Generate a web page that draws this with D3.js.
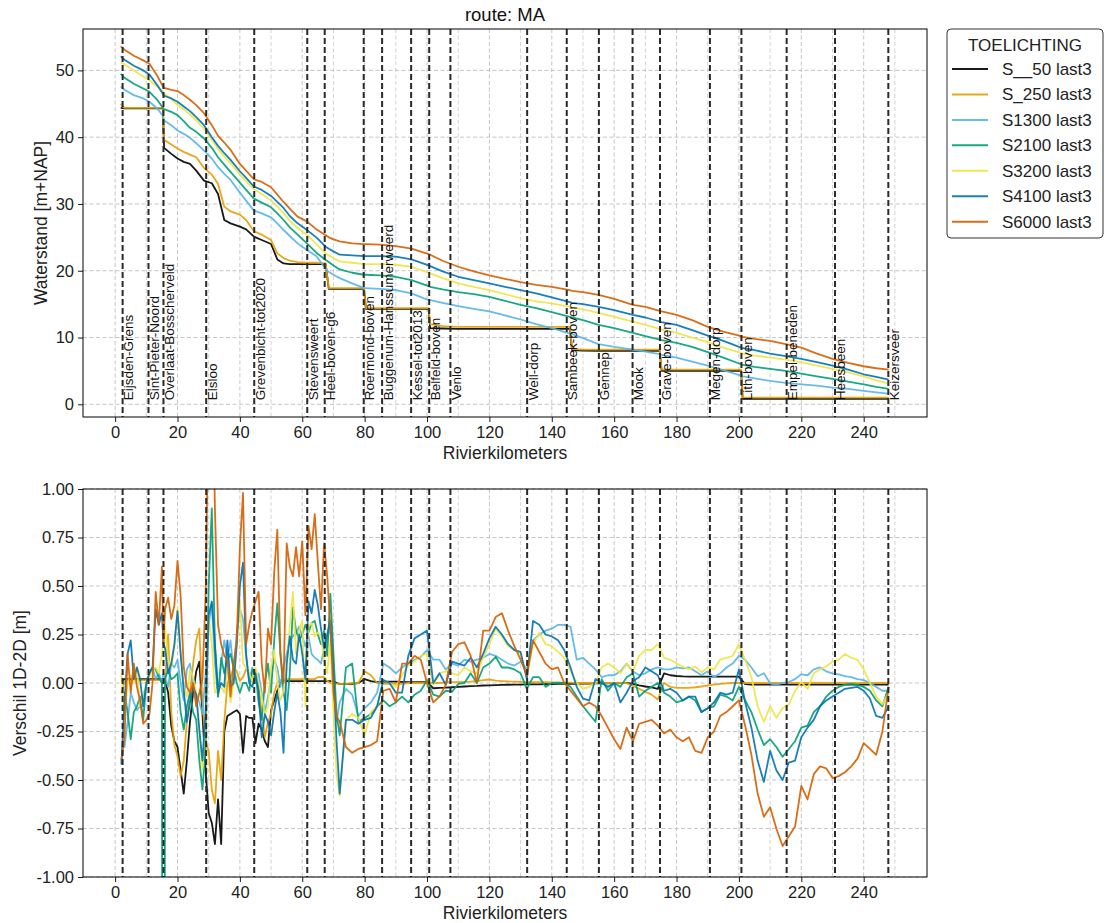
<!DOCTYPE html>
<html>
<head>
<meta charset="utf-8">
<script src="https://cdn.jsdelivr.net/npm/d3@7"></script>
<style>
	body { margin: 0; background: #fff; }
	text { font-family: "Liberation Sans", Arial, sans-serif; }
</style>
</head>
<body>
<div id="chart"></div>
<script>
// ---- series / legend ----
var seriesNames = ["S__50 last3", "S_250 last3", "S1300 last3", "S2100 last3", "S3200 last3", "S4100 last3", "S6000 last3"];
var seriesColors = ["#000000", "#E69F00", "#56B4E9", "#009E73", "#F0E442", "#0072B2", "#D55E00"];

// ---- locations along the river (km) ----
var locNames = ["Eijsden-Grens", "Sint-Pieter-Noord", "Overlaat-Bosscherveld", "Elsloo", "Grevenbicht-tot2020",
	"Stevensweert", "Heel-boven-g6", "Roermond-boven", "Buggenum-Hanssumerweerd", "Kessel-tot2013", "Belfeld-boven",
	"Venlo", "Well-dorp", "Sambeek-boven", "Gennep", "Mook", "Grave-boven", "Megen-dorp", "Lith-boven",
	"Empel-beneden", "Heesbeen", "Keizersveer"];
var locKm = [2.4, 10.7, 15.5, 29.2, 44.6, 61.6, 67.2, 79.7, 85.6, 94.9, 100.7, 107.5, 132.1, 144.8, 155.1,
	165.9, 174.7, 190.7, 200.8, 215.3, 230.8, 247.9];

// ---- tick labels ----
var xTicks = [0, 20, 40, 60, 80, 100, 120, 140, 160, 180, 200, 220, 240];
var xMinor = [10, 30, 50, 70, 90, 110, 130, 150, 170, 190, 210, 230, 250];
var wlTicks = [0, 10, 20, 30, 40, 50];
var dfTicks = [-1, -0.75, -0.5, -0.25, 0, 0.25, 0.5, 0.75, 1];

// ---- top panel: waterstand [m+NAP] ----
var kmTop = [1.8, 3, 6, 9, 11, 13.5, 15.3, 15.7, 18, 20,
	22, 24, 26, 28.5, 31, 33, 35, 37, 40, 42,
	44.5, 47, 50, 52, 54, 56, 58.5, 61.5, 64.5, 67.5,
	68.5, 70, 72, 76, 79.8, 80.4, 85, 90, 95, 100.5,
	101, 105, 110, 115, 120, 125, 130, 135, 140, 145.8,
	146.5, 150, 155, 160, 166, 170, 174.6, 175.2, 180, 185,
	190, 195, 200.7, 201.2, 205, 210, 215, 220, 225, 230,
	235, 240, 244, 248];

var wlS50 = [44.4, 44.3, 44.3, 44.3, 44.3, 44.3, 44.3, 38.4, 37.5, 36.8,
	36.3, 36.0, 35.0, 33.5, 33.1, 31.5, 27.6, 27.1, 26.6, 26.2,
	25.1, 24.6, 24.0, 21.7, 21.1, 21.0, 21.0, 21.0, 21.0, 21.0,
	17.3, 17.3, 17.3, 17.3, 17.3, 14.3, 14.3, 14.3, 14.3, 14.3,
	11.4, 11.35, 11.3, 11.3, 11.3, 11.3, 11.3, 11.3, 11.3, 11.3,
	8.1, 8.05, 8.0, 8.0, 8.0, 8.0, 8.0, 5.0, 5.0, 5.0,
	5.0, 5.0, 5.0, 0.8, 0.8, 0.8, 0.8, 0.8, 0.8, 0.8,
	0.8, 0.8, 0.8, 0.8];
var wlS250 = [45.0, 44.4, 44.4, 44.4, 44.4, 44.4, 44.4, 39.6, 38.9, 38.3,
	37.8, 37.4, 37.0, 35.4, 34.4, 33.0, 29.6, 28.9, 28.4, 27.6,
	25.9, 25.4, 24.6, 22.6, 21.9, 21.5, 21.3, 21.2, 21.2, 21.1,
	17.4, 17.4, 17.4, 17.4, 17.4, 14.4, 14.4, 14.4, 14.4, 14.4,
	12.0, 11.7, 11.6, 11.6, 11.6, 11.6, 11.6, 11.6, 11.6, 11.6,
	8.3, 8.2, 8.2, 8.2, 8.2, 8.2, 8.2, 5.2, 5.2, 5.2,
	5.2, 5.2, 5.2, 1.0, 1.0, 1.0, 1.0, 1.0, 1.0, 1.0,
	1.0, 1.0, 1.0, 1.0];
var wlS1300 = [47.6, 47.1, 46.3, 45.8, 45.3, 44.3, 43.2, 42.5, 41.8, 41.0,
	40.5, 39.9, 39.1, 38.0, 36.8, 35.5, 34.5, 33.6, 31.7, 30.5,
	29.0, 28.6, 28.0, 27.1, 26.1, 25.2, 24.1, 23.1, 22.2, 20.3,
	19.8, 19.4, 18.9, 18.1, 17.4, 17.4, 17.3, 17.1, 16.6, 15.6,
	15.6, 15.2, 14.7, 14.3, 13.9, 13.3, 12.7, 12.0, 11.4, 10.6,
	10.5, 9.9, 9.0, 8.6, 8.2, 7.9, 7.5, 7.4, 7.0, 6.4,
	5.8, 5.1, 4.3, 4.2, 3.9, 3.5, 3.2, 3.0, 2.8, 2.5,
	2.3, 2.0, 1.8, 1.6];
var wlS2100 = [49.5, 48.9, 48.0, 47.3, 46.8, 45.6, 44.4, 44.2, 43.8, 43.3,
	42.4, 41.4, 40.8, 39.8, 38.4, 37.0, 35.9, 34.8, 33.2, 32.1,
	30.8, 30.2, 29.5, 28.6, 27.6, 26.5, 25.4, 24.1, 22.7, 21.6,
	21.3, 20.8, 20.2, 19.7, 19.4, 19.4, 19.3, 19.1, 18.6, 17.7,
	17.6, 17.2, 16.8, 16.5, 16.1, 15.5, 14.9, 14.4, 13.8, 13.1,
	13.0, 12.6, 11.9, 11.4, 10.7, 10.2, 9.7, 9.6, 9.2, 8.6,
	7.8, 7.0, 6.0, 5.9, 5.6, 5.3, 5.0, 4.6, 4.2, 3.8,
	3.4, 3.0, 2.6, 2.3];
var wlS3200 = [51.2, 50.9, 50.0, 49.1, 48.5, 47.6, 46.9, 46.6, 45.7, 44.8,
	44.2, 43.4, 42.5, 41.3, 39.6, 38.2, 37.1, 36.1, 34.4, 33.4,
	32.2, 31.5, 30.5, 29.6, 28.6, 27.5, 26.4, 25.4, 24.0, 22.6,
	22.3, 21.9, 21.4, 21.2, 21.0, 21.0, 21.0, 20.9, 20.6, 19.7,
	19.6, 18.9, 18.1, 17.6, 17.1, 16.5, 15.9, 15.4, 15.1, 14.6,
	14.5, 14.2, 13.7, 13.1, 12.4, 11.9, 11.3, 11.2, 10.7, 10.0,
	9.3, 8.5, 7.7, 7.6, 7.3, 7.0, 6.7, 6.3, 5.8, 5.3,
	4.8, 4.2, 3.6, 3.1];
var wlS4100 = [52.1, 51.6, 50.7, 50.0, 49.4, 47.8, 46.5, 46.2, 45.8, 45.3,
	44.6, 43.9, 43.0, 41.8, 40.0, 38.7, 37.6, 36.6, 34.9, 33.9,
	32.6, 32.1, 31.2, 30.3, 29.4, 28.2, 27.1, 26.1, 25.0, 23.6,
	23.3, 22.9, 22.4, 22.3, 22.2, 22.2, 22.2, 22.1, 21.7, 20.8,
	20.7, 19.9, 19.1, 18.6, 18.1, 17.6, 17.1, 16.6, 16.0, 15.3,
	15.2, 15.0, 14.6, 14.1, 13.4, 13.0, 12.4, 12.3, 11.9, 11.1,
	10.3, 9.5, 8.5, 8.4, 8.1, 7.6, 7.2, 6.8, 6.3, 5.8,
	5.2, 4.5, 4.1, 3.7];
var wlS6000 = [53.6, 53.1, 52.2, 51.5, 51.0, 49.2, 47.6, 47.4, 47.1, 46.9,
	46.3, 45.6, 44.8, 43.6, 41.8, 40.2, 39.2, 38.1, 36.0, 35.0,
	33.7, 33.3, 32.5, 31.4, 30.3, 29.3, 28.1, 27.4, 26.2, 25.3,
	25.0, 24.7, 24.4, 24.1, 24.0, 24.0, 23.9, 23.7, 23.3, 22.5,
	22.4, 21.5, 20.6, 19.9, 19.3, 18.8, 18.3, 17.9, 17.6, 17.1,
	17.0, 16.8, 16.4, 15.8, 14.9, 14.6, 14.0, 13.9, 13.4, 12.6,
	11.6, 10.9, 10.2, 10.1, 9.8, 9.5, 9.0, 8.5, 7.6, 6.8,
	6.2, 5.7, 5.4, 5.2];

// ---- bottom panel: verschil 1D-2D [m] ----
var kmDiff = [2, 3, 4, 5, 6, 7, 8, 9, 10, 11,
	12, 13, 14, 15, 15.5, 16, 17, 18, 19, 20, 21,
	22, 23, 24, 25, 26, 27, 28, 29, 30, 31,
	32, 33, 34, 35, 36, 37, 38, 39, 40, 41,
	42, 43, 44, 45, 46, 47, 48, 49, 50, 51,
	52, 53, 54, 55, 56, 57, 58, 59, 60, 61,
	62, 63, 64, 65, 66, 67, 68, 69, 70, 71, 72,
	74, 76, 78, 80, 82, 84, 86, 88, 90, 92,
	94, 96, 98, 100, 102, 104, 106, 108, 110, 112,
	114, 116, 118, 120, 122, 124, 126, 128, 130, 132,
	134, 136, 138, 140, 142, 144, 146, 148, 150, 152,
	154, 156, 158, 160, 162, 164, 166, 168, 170, 172,
	174, 176, 178, 180, 182, 184, 186, 188, 190, 192,
	194, 196, 198, 200, 202, 204, 206, 208, 210, 212,
	214, 216, 218, 220, 222, 224, 226, 228, 230, 232,
	234, 236, 238, 240, 242, 244, 246, 248];

var dfS50 = [0.01, 0.02, 0.02, 0.02, 0.02, 0.02, 0.02, 0.02, 0.02, 0.02,
	0.02, 0.02, 0.02, 0.02, 0.02, 0.02, -0.05, -0.22, -0.30, -0.33, -0.45,
	-0.57, -0.40, -0.20, -0.05, 0.06, 0.11, -0.16, -0.45, -0.67, -0.72,
	-0.83, -0.60, -0.83, -0.25, -0.17, -0.16, -0.15, -0.14, -0.16, -0.36,
	-0.17, -0.18, -0.18, -0.31, -0.21, -0.24, -0.30, -0.33, -0.14, -0.09,
	-0.04, 0.00, 0.015, 0.01, 0.01, 0.01, 0.01, 0.01, 0.01, 0.01,
	0.01, 0.01, 0.01, 0.01, 0.01, 0.01, 0.01, 0.01, 0.01, 0.00, -0.005,
	-0.005, -0.005, 0.00, 0.02, 0.01, 0.005, 0.007, 0.007, 0.007, 0.006,
	0.005, 0.005, 0.005, 0.005, -0.027, -0.025, -0.024, -0.022, -0.020, -0.018,
	-0.016, -0.015, -0.013, -0.012, -0.011, -0.010, -0.009, -0.008, -0.008, -0.007,
	-0.007, -0.007, -0.006, -0.006, -0.005, -0.005, -0.004, -0.004, -0.003, -0.003,
	-0.002, -0.002, -0.002, -0.001, -0.001, 0.000, -0.005, -0.012, -0.018, -0.023,
	-0.030, 0.050, 0.040, 0.036, 0.034, 0.033, 0.033, 0.033, 0.033, 0.033,
	0.033, 0.033, 0.033, 0.033, -0.006, -0.008, -0.008, -0.008, -0.008, -0.008,
	-0.008, -0.008, -0.008, -0.008, -0.008, -0.008, -0.008, -0.008, -0.008, -0.008,
	-0.008, -0.008, -0.008, -0.008, -0.008, -0.008, -0.008, -0.008];
var dfS250 = [-0.05, 0.01, 0.015, 0.015, 0.015, 0.015, 0.015, 0.015, 0.015, 0.015,
	0.015, 0.015, 0.015, 0.015, 0.01, 0.00, 0.25, -0.15, -0.32, -0.38, -0.48,
	-0.40, -0.20, -0.05, 0.10, 0.22, 0.28, -0.10, -0.30, -0.35, -0.55,
	-0.62, -0.35, -0.50, -0.20, 0.00, 0.03, 0.08, 0.06, 0.01, 0.03,
	0.07, 0.05, 0.03, 0.01, -0.02, -0.15, -0.28, -0.20, -0.16, -0.05,
	0.00, 0.015, 0.02, 0.02, 0.02, 0.02, 0.02, 0.02, 0.02, 0.02,
	0.02, 0.02, 0.02, 0.03, 0.03, 0.03, 0.01, 0.00, -0.005, -0.005, -0.005,
	-0.005, 0.00, 0.00, 0.06, 0.04, 0.00, -0.005, -0.005, -0.005, -0.005,
	0.00, 0.00, 0.00, 0.00, 0.00, 0.00, 0.003, 0.005, 0.005, 0.006,
	0.007, 0.010, 0.015, 0.018, 0.012, 0.010, 0.008, 0.007, 0.006, 0.005,
	0.005, 0.004, 0.004, 0.003, 0.003, 0.002, 0.002, 0.00, 0.00, 0.00,
	0.00, 0.00, 0.00, 0.00, 0.00, 0.00, -0.015, -0.03, -0.045, -0.06,
	-0.085, 0.00, -0.02, -0.025, -0.025, -0.025, -0.022, -0.018, -0.012, -0.008,
	-0.005, -0.002, 0.00, 0.00, 0.00, 0.00, 0.00, 0.00, 0.00, 0.00,
	0.00, 0.00, 0.00, 0.00, 0.00, 0.00, 0.00, 0.00, 0.00, 0.00,
	0.00, 0.00, 0.00, 0.00, 0.00, 0.00, 0.00, 0.00];
var dfS1300 = [-0.33, -0.33, -0.20, -0.05, -0.10, -0.14, -0.12, -0.06, -0.02, 0.05,
	0.08, 0.02, 0.05, 0.00, 0.05, 0.03, -0.02, 0.10, 0.08, 0.12, 0.00,
	-0.09, 0.07, 0.10, -0.02, -0.06, -0.10, -0.16, 0.05, 0.30, 0.41,
	0.10, -0.07, 0.10, 0.22, 0.12, 0.22, 0.05, 0.26, 0.38, 0.33,
	0.13, 0.01, 0.08, 0.00, 0.05, -0.05, -0.15, -0.07, 0.02, 0.12,
	0.08, -0.02, 0.08, 0.15, 0.22, 0.24, 0.26, 0.29, 0.24, 0.19,
	0.24, 0.15, 0.13, 0.12, 0.10, 0.18, 0.22, 0.30, 0.00, -0.20, -0.10,
	-0.03, -0.06, -0.17, -0.13, -0.10, -0.05, 0.10, 0.08, 0.05, 0.08,
	0.10, 0.12, 0.135, 0.17, 0.12, 0.12, 0.07, 0.10, 0.09, 0.12,
	0.11, 0.12, 0.13, 0.15, 0.14, 0.12, 0.10, 0.09, 0.11, 0.07,
	0.22, 0.25, 0.27, 0.28, 0.30, 0.30, 0.29, 0.12, 0.13, 0.10,
	0.07, 0.03, 0.04, 0.04, 0.06, 0.10, 0.06, 0.04, 0.05, 0.07,
	0.08, 0.07, 0.07, 0.08, 0.075, 0.08, 0.06, 0.04, 0.06, 0.03,
	0.05, 0.08, 0.10, 0.14, 0.12, 0.08, 0.035, 0.05, -0.002, -0.01,
	0.00, 0.005, 0.02, 0.045, 0.04, 0.07, 0.08, 0.06, 0.05, 0.045,
	0.035, 0.03, 0.02, 0.015, 0.00, -0.02, -0.04, -0.04];
var dfS2100 = [-0.05, -0.05, -0.15, -0.29, -0.15, -0.12, -0.07, -0.19, 0.00, 0.05,
	0.08, 0.07, 0.03, 0.00, -8.0, 0.02, 0.07, 0.02, 0.03, 0.05, -0.15,
	-0.24, -0.12, -0.05, -0.15, -0.19, -0.40, -0.55, -0.33, 0.50, 0.90,
	0.20, -0.07, 0.13, 0.05, 0.12, 0.15, 0.08, 0.00, -0.05, 0.00,
	0.00, -0.04, 0.07, 0.06, -0.10, -0.19, 0.00, 0.10, -0.05, 0.22,
	0.41, 0.15, -0.05, -0.14, 0.05, 0.39, 0.27, 0.22, 0.25, 0.30,
	0.26, 0.31, 0.32, 0.25, 0.20, 0.27, 0.14, 0.46, 0.15, -0.16, -0.27,
	0.08, 0.10, -0.20, -0.18, -0.16, -0.12, -0.09, -0.12, -0.10, -0.07,
	-0.10, -0.06, -0.04, 0.015, -0.06, -0.07, -0.04, -0.045, -0.005, 0.00,
	0.05, 0.00, 0.08, 0.10, 0.135, 0.08, 0.08, 0.07, 0.05, -0.03,
	0.03, 0.03, -0.02, 0.00, 0.00, 0.00, -0.02, -0.07, -0.12, -0.16,
	-0.20, 0.02, -0.04, 0.00, -0.02, 0.03, 0.05, -0.07, -0.04, -0.02,
	0.00, -0.05, -0.07, -0.10, -0.09, -0.07, -0.09, -0.15, -0.13, -0.12,
	-0.06, -0.07, -0.09, -0.02, -0.09, -0.15, -0.24, -0.32, -0.29, -0.33,
	-0.38, -0.34, -0.30, -0.23, -0.22, -0.15, -0.12, -0.07, -0.04, -0.02,
	-0.008, -0.005, -0.01, -0.02, -0.04, -0.09, -0.12, -0.02];
var dfS3200 = [0.05, -0.16, 0.00, 0.04, 0.00, 0.08, -0.12, -0.07, 0.00, 0.03,
	0.07, 0.08, 0.05, 0.15, 0.22, 0.29, 0.12, 0.08, 0.18, 0.39, 0.15,
	-0.02, -0.07, 0.07, 0.03, -0.05, -0.25, -0.45, -0.20, 0.35, 0.20,
	-0.05, -0.03, -0.02, -0.05, 0.08, -0.10, 0.00, 0.20, 0.43, 0.10,
	0.08, 0.05, 0.01, 0.08, 0.00, -0.07, -0.16, -0.12, 0.08, 0.17,
	0.00, -0.09, -0.04, 0.07, 0.30, 0.47, 0.15, 0.27, 0.32, -0.12,
	0.29, 0.31, 0.24, 0.26, 0.24, 0.12, 0.05, 0.22, -0.15, -0.47, -0.58,
	-0.19, -0.16, -0.18, -0.27, -0.15, -0.12, 0.015, 0.00, -0.02, 0.04,
	0.09, 0.11, 0.14, 0.15, -0.01, 0.05, 0.06, 0.05, 0.04, 0.08,
	0.06, 0.05, 0.13, 0.20, 0.28, 0.24, 0.19, 0.17, 0.15, 0.03,
	0.20, 0.26, 0.20, 0.19, 0.16, 0.13, 0.06, 0.00, -0.03, -0.02,
	0.00, 0.08, 0.10, 0.08, 0.05, 0.10, 0.06, 0.14, 0.17, 0.17,
	0.20, 0.13, 0.12, 0.10, 0.085, 0.07, 0.085, 0.055, 0.08, 0.07,
	0.12, 0.13, 0.14, 0.20, 0.12, 0.03, -0.12, -0.20, -0.12, -0.18,
	-0.13, -0.11, -0.04, 0.005, -0.03, 0.05, 0.07, 0.085, 0.11, 0.12,
	0.15, 0.13, 0.12, 0.07, 0.00, -0.07, -0.11, -0.05];
var dfS4100 = [-0.42, -0.10, 0.15, 0.22, 0.02, 0.08, 0.02, -0.12, 0.00, 0.05,
	0.08, 0.38, 0.30, 0.36, 0.20, 0.18, 0.05, 0.10, 0.20, 0.37, 0.15,
	-0.04, -0.20, -0.10, -0.02, -0.06, -0.24, -0.40, -0.15, 0.35, 0.42,
	0.20, -0.05, 0.00, -0.02, 0.22, -0.02, 0.00, 0.20, 0.50, 0.62,
	0.15, 0.00, -0.02, 0.05, -0.04, -0.28, -0.16, -0.20, -0.27, -0.15,
	-0.05, -0.15, -0.36, 0.10, 0.24, 0.12, 0.10, 0.25, 0.15, 0.02,
	0.42, 0.36, 0.48, 0.40, 0.28, 0.18, 0.25, 0.32, 0.05, -0.30, -0.57,
	-0.19, -0.19, -0.21, -0.19, -0.18, -0.12, 0.015, 0.00, -0.05, -0.05,
	0.14, 0.23, 0.25, 0.27, 0.00, 0.05, -0.01, 0.11, 0.10, 0.09,
	0.13, 0.08, 0.15, 0.23, 0.29, 0.25, 0.20, 0.17, 0.16, 0.02,
	0.32, 0.30, 0.25, 0.24, 0.22, 0.17, 0.08, -0.02, -0.08, -0.09,
	0.02, 0.00, -0.02, 0.00, -0.10, -0.05, 0.01, 0.03, 0.08, 0.06,
	0.04, -0.04, -0.03, -0.05, -0.09, -0.07, -0.07, -0.15, -0.13, -0.10,
	-0.05, -0.06, -0.05, 0.07, -0.10, -0.23, -0.40, -0.51, -0.35, -0.45,
	-0.50, -0.41, -0.40, -0.28, -0.23, -0.19, -0.12, -0.09, -0.07, -0.05,
	-0.03, -0.025, -0.02, -0.04, -0.08, -0.17, -0.18, -0.12];
var dfS6000 = [-0.40, -0.28, 0.15, -0.05, 0.10, -0.02, -0.09, -0.21, -0.19, -0.16,
	0.00, 0.47, 0.30, 0.60, 0.20, 0.38, 0.44, 0.33, 0.40, 0.63, 0.45,
	0.08, -0.02, -0.05, 0.00, -0.12, -0.05, 0.02, 0.45, 1.50, 1.80,
	0.90, 0.30, 0.20, 0.14, 0.12, -0.07, 0.10, 0.22, 0.70, 0.98,
	0.20, 0.30, 0.37, 0.42, 0.47, 0.10, -0.05, 0.28, 0.20, 0.57,
	0.79, 0.15, 0.00, 0.72, 0.60, 0.55, 0.70, 0.55, 0.73, 0.35,
	0.81, 0.69, 0.87, 0.62, 0.38, 0.72, 0.55, 0.30, -0.05, -0.17, -0.20,
	-0.33, -0.36, -0.34, -0.33, -0.32, -0.30, -0.04, -0.03, -0.10, 0.10,
	0.10, 0.14, 0.12, 0.00, -0.10, -0.07, -0.01, 0.16, 0.20, 0.21,
	0.14, 0.00, 0.27, 0.27, 0.34, 0.36, 0.27, 0.19, 0.12, 0.04,
	0.22, 0.16, 0.10, 0.07, 0.08, 0.00, -0.04, -0.08, -0.12, -0.10,
	-0.12, -0.17, -0.23, -0.29, -0.34, -0.23, -0.30, -0.21, -0.20, -0.19,
	-0.22, -0.26, -0.24, -0.28, -0.30, -0.28, -0.35, -0.36, -0.28, -0.25,
	-0.17, -0.15, -0.12, -0.09, -0.22, -0.37, -0.57, -0.69, -0.64, -0.75,
	-0.84, -0.79, -0.74, -0.53, -0.60, -0.47, -0.43, -0.44, -0.49, -0.48,
	-0.46, -0.43, -0.39, -0.31, -0.34, -0.37, -0.25, -0.02];

var wlSeries = [wlS50, wlS250, wlS1300, wlS2100, wlS3200, wlS4100, wlS6000];
var dfSeries = [dfS50, dfS250, dfS1300, dfS2100, dfS3200, dfS4100, dfS6000];

(function () {
	var W = 1111, H = 923;
	var left = 83, right = 927;

	var svg = d3.select("#chart").append("svg")
		.attr("width", W)
		.attr("height", H);

	var x = d3.scaleLinear().domain([-10.3, 260.3]).range([left, right]);

	var panels = [
		{ id: "top", top: 29, bottom: 417, domain: [-1.9, 56.2], ticks: wlTicks,
			fmt: function (d) { return String(d); }, km: kmTop, series: wlSeries,
			ylabel: "Waterstand [m+NAP]", ylabelX: 41, names: true },
		{ id: "bot", top: 489, bottom: 877, domain: [-1, 1], ticks: dfTicks,
			fmt: function (d) { return d.toFixed(2); }, km: kmDiff, series: dfSeries,
			ylabel: "Verschil 1D-2D [m]", ylabelX: 20, names: false }
	];

	panels.forEach(function (p) {
		var y = d3.scaleLinear().domain(p.domain).range([p.bottom, p.top]);
		var g = svg.append("g");

		svg.append("clipPath").attr("id", "clip-" + p.id)
			.append("rect")
				.attr("x", left).attr("y", p.top)
				.attr("width", right - left).attr("height", p.bottom - p.top);

		// grid
		g.selectAll(".gminor").data(xMinor).enter().append("line")
			.attr("x1", function (d) { return x(d); }).attr("x2", function (d) { return x(d); })
			.attr("y1", p.top).attr("y2", p.bottom)
			.attr("stroke", "#c8c8c8").attr("stroke-width", 0.8).attr("stroke-dasharray", "4,2.5");
		g.selectAll(".gx").data(xTicks).enter().append("line")
			.attr("x1", function (d) { return x(d); }).attr("x2", function (d) { return x(d); })
			.attr("y1", p.top).attr("y2", p.bottom)
			.attr("stroke", "#b8b8b8").attr("stroke-width", 0.8).attr("stroke-dasharray", "4,2.5");
		g.selectAll(".gy").data(p.ticks).enter().append("line")
			.attr("x1", left).attr("x2", right)
			.attr("y1", function (d) { return y(d); }).attr("y2", function (d) { return y(d); })
			.attr("stroke", "#b8b8b8").attr("stroke-width", 0.8).attr("stroke-dasharray", "4,2.5");

		// series
		var line = d3.line()
			.x(function (d) { return x(d[0]); })
			.y(function (d) { return y(d[1]); });
		var lines = g.append("g").attr("clip-path", "url(#clip-" + p.id + ")");
		p.series.forEach(function (vals, i) {
			lines.append("path")
				.datum(p.km.map(function (k, j) { return [k, vals[j]]; }))
				.attr("d", line)
				.attr("fill", "none")
				.attr("stroke", seriesColors[i])
				.attr("stroke-opacity", 0.9)
				.attr("stroke-width", 1.8)
				.attr("stroke-linejoin", "round");
		});

		// location lines
		g.selectAll(".loc").data(locKm).enter().append("line")
			.attr("x1", function (d) { return x(d); }).attr("x2", function (d) { return x(d); })
			.attr("y1", p.top).attr("y2", p.bottom)
			.attr("stroke", "#2a2a2a").attr("stroke-width", 2).attr("stroke-dasharray", "6,3");

		if (p.names) {
			g.selectAll(".locname").data(locNames).enter().append("text")
				.attr("transform", function (d, i) {
					return "translate(" + (x(locKm[i]) + 10.5) + "," + (y(0.6)) + ") rotate(-90)";
				})
				.attr("font-size", "13.5px")
				.attr("fill", "#111")
				.text(function (d) { return d; });
		}

		// axes
		var xAxis = d3.axisBottom(x).tickValues(xTicks).tickSize(5).tickPadding(4)
			.tickFormat(function (d) { return String(d); });
		var gx = svg.append("g").attr("transform", "translate(0," + p.bottom + ")").call(xAxis);
		var yAxis = d3.axisLeft(y).tickValues(p.ticks).tickSize(5).tickPadding(4).tickFormat(p.fmt);
		var gy = svg.append("g").attr("transform", "translate(" + left + ",0)").call(yAxis);
		[gx, gy].forEach(function (a) {
			a.select(".domain").remove();
			a.selectAll("line").attr("stroke", "#000").attr("stroke-width", 0.9);
			a.selectAll("text").attr("font-size", "16.5px").attr("fill", "#222")
				.style("font-family", "'Liberation Sans', Arial, sans-serif");
		});

		// frame
		svg.append("rect")
			.attr("x", left).attr("y", p.top)
			.attr("width", right - left).attr("height", p.bottom - p.top)
			.attr("fill", "none").attr("stroke", "#000").attr("stroke-width", 1);

		// labels
		svg.append("text")
			.attr("x", (left + right) / 2).attr("y", p.bottom + 42)
			.attr("text-anchor", "middle").attr("font-size", "17.5px").attr("fill", "#222")
			.text("Rivierkilometers");
		svg.append("text")
			.attr("transform", "translate(" + p.ylabelX + "," + ((p.top + p.bottom) / 2) + ") rotate(-90)")
			.attr("dy", "0.35em")
			.attr("text-anchor", "middle").attr("font-size", "17.5px").attr("fill", "#222")
			.text(p.ylabel);
	});

	// title
	svg.append("text")
		.attr("x", (left + right) / 2).attr("y", 21)
		.attr("text-anchor", "middle").attr("font-size", "18.5px").attr("fill", "#111")
		.text("route: MA");

	// legend
	var lg = svg.append("g");
	lg.append("rect")
		.attr("x", 947).attr("y", 29).attr("width", 156).attr("height", 209)
		.attr("rx", 4).attr("fill", "#fff").attr("stroke", "#333").attr("stroke-width", 1);
	lg.append("text")
		.attr("x", 1025).attr("y", 50.5)
		.attr("text-anchor", "middle").attr("font-size", "17px").attr("fill", "#222")
		.text("TOELICHTING");
	var items = lg.selectAll(".item").data(seriesNames).enter().append("g")
		.attr("transform", function (d, i) { return "translate(0," + (69 + i * 25.45) + ")"; });
	items.append("line")
		.attr("x1", 952).attr("x2", 988).attr("y1", 0).attr("y2", 0)
		.attr("stroke", function (d, i) { return seriesColors[i]; })
		.attr("stroke-opacity", 0.9).attr("stroke-width", 2);
	items.append("text")
		.attr("x", 1002).attr("y", 6)
		.attr("font-size", "17px").attr("fill", "#222")
		.text(function (d) { return d; });
})();
</script>
</body>
</html>
